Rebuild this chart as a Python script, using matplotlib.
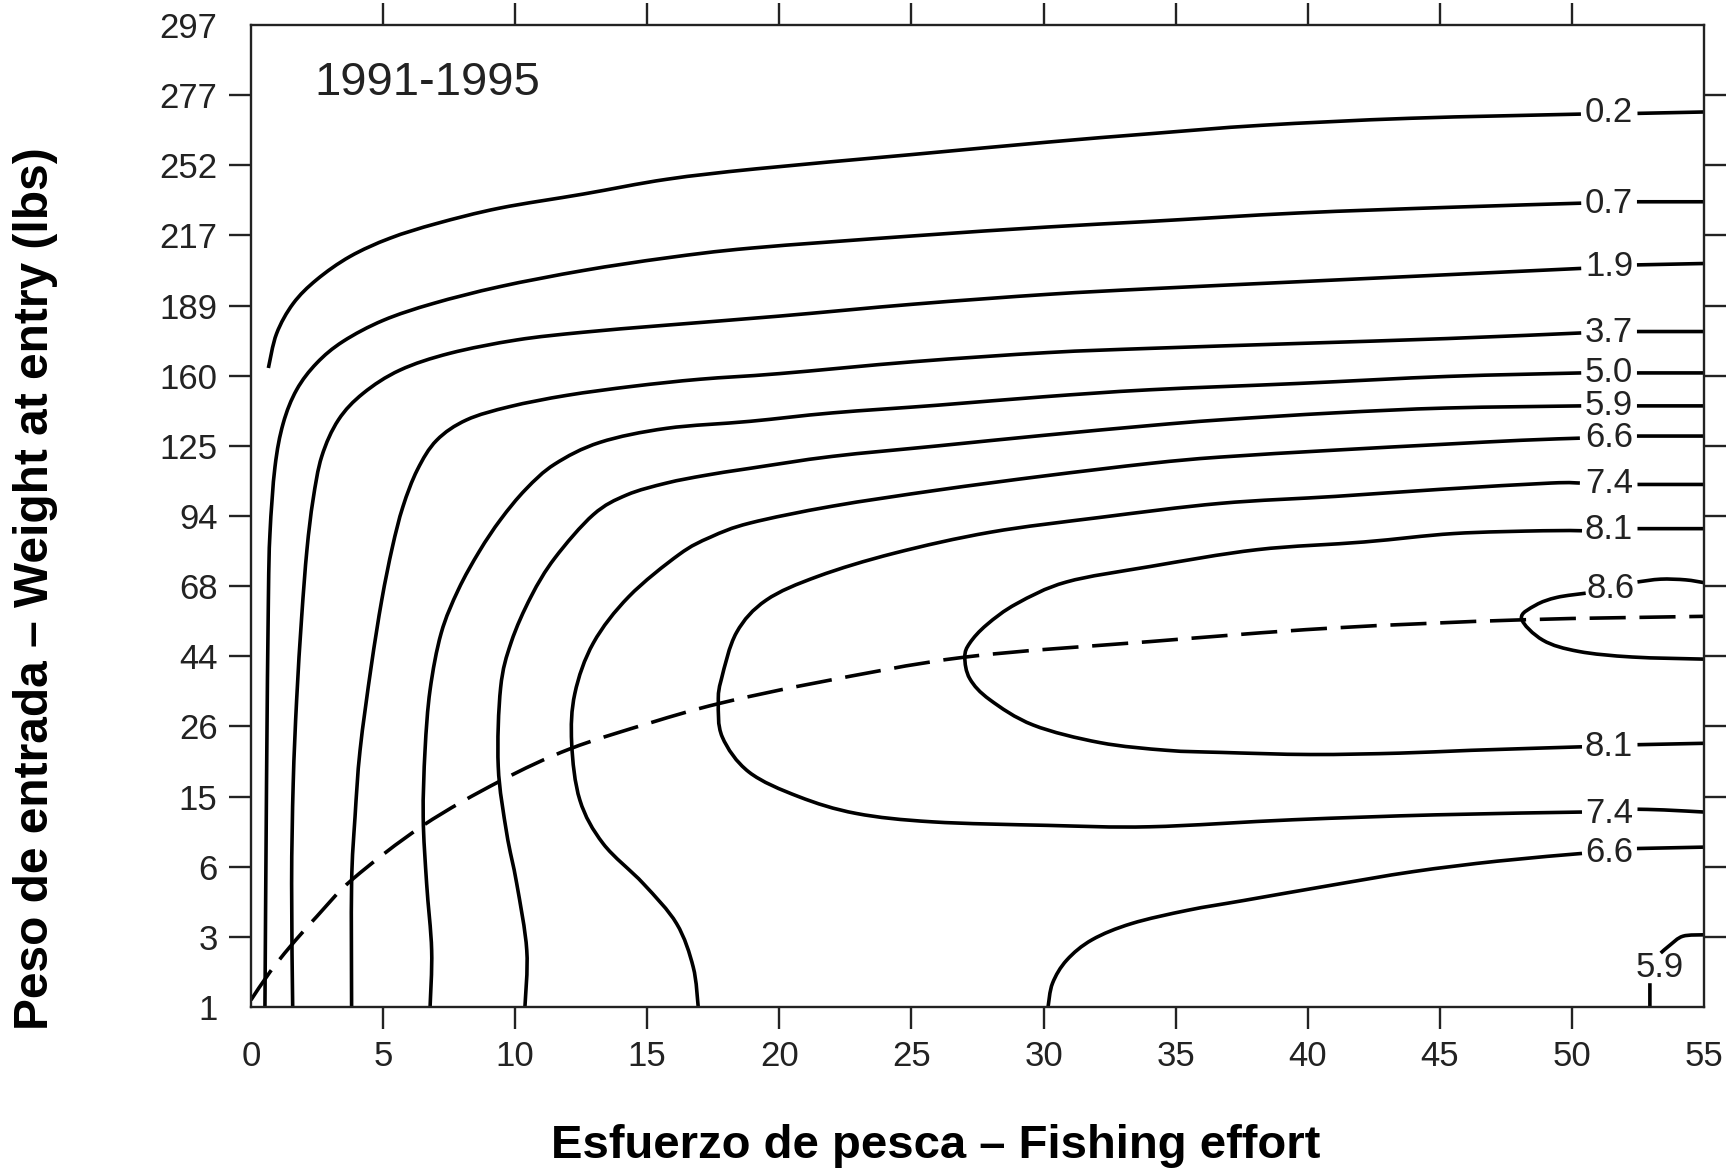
import matplotlib
matplotlib.use('Agg')
import matplotlib.pyplot as plt
from matplotlib.path import Path
from matplotlib.patches import PathPatch

plt.rcParams['font.family'] = ['Liberation Sans', 'DejaVu Sans']

# axis values
effort_ticks = [0, 5, 10, 15, 20, 25, 30, 35, 40, 45, 50, 55]
weight_labels = ['1', '3', '6', '15', '26', '44', '68', '94', '125', '160',
                 '189', '217', '252', '277', '297']

# isolines: x = fishing effort, y = position on the weight axis
c02_x = [0.66, 0.97, 1.60, 2.49, 3.75, 5.26, 7.03, 9.42, 12.58, 15.73, 19.14, 24.93, 30.15, 34.03, 38.25, 43.87, 50.34]
c02_y = [9.11, 9.60, 10.03, 10.37, 10.70, 10.96, 11.17, 11.39, 11.59, 11.80, 11.95, 12.15, 12.33, 12.45, 12.57, 12.67, 12.73]
c02r_x = [52.48, 55]
c02r_y = [12.74, 12.76]

c07_x = [0.53, 0.59, 0.66, 0.72, 0.91, 1.22, 1.73, 2.49, 3.49, 5.01, 6.90, 9.42, 12.58, 15.73, 18.95, 24.94, 30.15, 34.03, 39.65, 45.28, 50.35]
c07_y = [0, 3.19, 5.80, 6.75, 7.70, 8.32, 8.80, 9.18, 9.49, 9.79, 10.03, 10.27, 10.50, 10.68, 10.82, 10.99, 11.12, 11.20, 11.32, 11.40, 11.46]
c07r_x = [52.46, 55]
c07r_y = [11.48, 11.48]

c19_x = [1.58, 1.54, 1.60, 1.73, 1.92, 2.12, 2.35, 2.68, 3.31, 4.25, 5.64, 7.53, 10.06, 12.58, 15.7, 20.0, 25.08, 30.15, 34.03, 39.65, 45.28, 50.35]
c19_y = [0, 1.76, 3.19, 4.38, 5.56, 6.52, 7.23, 7.85, 8.37, 8.75, 9.08, 9.32, 9.51, 9.62, 9.72, 9.85, 10.02, 10.16, 10.24, 10.34, 10.44, 10.53]
c19r_x = [52.46, 55]
c19r_y = [10.58, 10.60]

c37_x = [3.81, 3.81, 3.94, 4.13, 4.55, 4.95, 5.35, 5.75, 6.3, 7.03, 8.16, 9.8, 11.95, 14.47, 17.0, 20.0, 25.08, 30.15, 34.03, 39.65, 45.28, 50.35]
c37_y = [0, 1.76, 2.71, 3.66, 4.85, 5.80, 6.55, 7.13, 7.66, 8.08, 8.37, 8.56, 8.72, 8.85, 8.95, 9.03, 9.20, 9.33, 9.39, 9.46, 9.53, 9.61]
c37r_x = [52.46, 55]
c37r_y = [9.63, 9.63]

c50_x = [6.78, 6.84, 6.65, 6.52, 6.59, 6.78, 7.2, 7.85, 8.65, 9.45, 10.4, 11.5, 13.21, 15.73, 18.89, 22.0, 26.0, 30.0, 34.03, 39.65, 45.28, 50.35]
c50_y = [0, 0.81, 1.76, 2.71, 3.66, 4.52, 5.33, 5.95, 6.50, 6.95, 7.38, 7.74, 8.05, 8.25, 8.35, 8.47, 8.58, 8.70, 8.80, 8.89, 8.99, 9.04]
c50r_x = [52.46, 55]
c50r_y = [9.04, 9.04]

c59_x = [10.37, 10.44, 10.06, 9.68, 9.36, 9.45, 9.85, 10.6, 11.5, 12.96, 14.22, 15.73, 17.2, 18.89, 22.0, 26.0, 30.0, 34.03, 36.68, 41.0, 45.28, 50.35]
c59_y = [0, 0.81, 1.76, 2.48, 3.43, 4.55, 5.20, 5.85, 6.40, 7.02, 7.30, 7.47, 7.58, 7.68, 7.85, 8.0, 8.15, 8.29, 8.37, 8.47, 8.54, 8.57]
c59r_x = [52.46, 55]
c59r_y = [8.57, 8.57]

c66_x = [16.93, 16.74, 16.11, 14.85, 13.33, 12.45, 12.14, 12.26, 12.96, 14.3, 16.2, 17.4, 18.89, 22.0, 26.0, 30.0, 34.03, 36.68, 41.06, 45.0, 48.1, 50.3]
c66_y = [0, 0.57, 1.19, 1.76, 2.33, 2.95, 3.76, 4.47, 5.19, 5.85, 6.45, 6.70, 6.90, 7.14, 7.37, 7.57, 7.75, 7.84, 7.94, 8.02, 8.08, 8.11]
c66r_x = [52.46, 55]
c66r_y = [8.14, 8.14]

c74_x = [50.3, 49.2, 45.0, 41.06, 36.68, 32.13, 28.0, 24.35, 21.46, 19.5, 18.38, 17.81, 17.69, 17.84, 18.85, 20.73, 22.91, 25.8, 30.15, 34.03, 39.44, 44.84, 50.38]
c74_y = [7.47, 7.47, 7.38, 7.28, 7.18, 6.98, 6.77, 6.47, 6.14, 5.80, 5.34, 4.68, 4.35, 3.85, 3.35, 3.00, 2.76, 2.64, 2.59, 2.57, 2.67, 2.74, 2.78]
c74r1_x = [52.48, 55]
c74r1_y = [7.45, 7.45]
c74r2_x = [52.48, 53.48, 55]
c74r2_y = [2.82, 2.81, 2.78]

c81_x = [50.38, 48.9, 45.52, 42.13, 38.08, 34.03, 30.87, 28.98, 27.85, 27.21, 27.02, 27.21, 27.97, 29.61, 32.13, 34.66, 36.73, 40.11, 43.49, 46.19, 50.38]
c81_y = [6.79, 6.79, 6.75, 6.63, 6.52, 6.28, 6.06, 5.75, 5.45, 5.19, 4.99, 4.68, 4.38, 4.02, 3.77, 3.66, 3.63, 3.60, 3.62, 3.66, 3.71]
c81r1_x = [52.48, 55]
c81r1_y = [6.82, 6.82]
c81r2_x = [52.48, 55]
c81r2_y = [3.74, 3.76]

c86_x = [50.52, 49.43, 48.63, 48.09, 48.9, 50.25, 52.28, 55]
c86_y = [5.90, 5.84, 5.73, 5.54, 5.23, 5.07, 4.99, 4.96]
c86r_x = [52.48, 53.36, 54.3, 55]
c86r_y = [6.06, 6.10, 6.09, 6.05]

c66low_x = [30.17, 30.34, 30.88, 31.84, 33.33, 35.46, 37.59, 40.79, 43.98, 47.18, 50.38]
c66low_y = [0, 0.34, 0.67, 0.96, 1.19, 1.38, 1.52, 1.73, 1.93, 2.08, 2.19]
c66lowr_x = [52.46, 55]
c66lowr_y = [2.26, 2.28]

c59low1_x = [52.95, 52.95]
c59low1_y = [0, 0.34]
c59low2_x = [53.36, 53.7, 54.2, 55]
c59low2_y = [0.77, 0.88, 1.01, 1.03]

# dashed line
dash_x = [0, 0.72, 1.48, 2.49, 3.87, 6.52, 9.42, 12.07, 15.10, 17.75, 21.5, 27.05, 34.03, 40.79, 48.09, 55]
dash_y = [0.1, 0.50, 0.86, 1.29, 1.83, 2.59, 3.22, 3.68, 4.05, 4.33, 4.63, 4.99, 5.21, 5.40, 5.52, 5.57]

# isoline labels
label_text = ['0.2', '0.7', '1.9', '3.7', '5.0', '5.9', '6.6', '7.4', '8.1', '8.6', '8.1', '7.4', '6.6', '5.9']
label_x = [51.4, 51.4, 51.4, 51.4, 51.4, 51.4, 51.4, 51.4, 51.4, 51.45, 51.4, 51.4, 51.4, 53.3]
label_y = [12.75, 11.46, 10.56, 9.62, 9.04, 8.57, 8.12, 7.46, 6.81, 5.97, 3.72, 2.76, 2.2, 0.56]

segments = [
    (c02_x, c02_y), (c02r_x, c02r_y),
    (c07_x, c07_y), (c07r_x, c07r_y),
    (c19_x, c19_y), (c19r_x, c19r_y),
    (c37_x, c37_y), (c37r_x, c37r_y),
    (c50_x, c50_y), (c50r_x, c50r_y),
    (c59_x, c59_y), (c59r_x, c59r_y),
    (c66_x, c66_y), (c66r_x, c66r_y),
    (c74_x, c74_y), (c74r1_x, c74r1_y), (c74r2_x, c74r2_y),
    (c81_x, c81_y), (c81r1_x, c81r1_y), (c81r2_x, c81r2_y),
    (c86_x, c86_y), (c86r_x, c86r_y),
    (c66low_x, c66low_y), (c66lowr_x, c66lowr_y),
    (c59low1_x, c59low1_y), (c59low2_x, c59low2_y),
]


def curve_through(xs, ys):
    # smooth bezier path passing through the traced points
    pts = list(zip(xs, ys))
    verts = [pts[0]]
    codes = [Path.MOVETO]
    n = len(pts)
    for i in range(n - 1):
        p0 = pts[max(i - 1, 0)]
        p1 = pts[i]
        p2 = pts[i + 1]
        p3 = pts[min(i + 2, n - 1)]
        c1 = (p1[0] + (p2[0] - p0[0]) / 6.0, p1[1] + (p2[1] - p0[1]) / 6.0)
        c2 = (p2[0] - (p3[0] - p1[0]) / 6.0, p2[1] - (p3[1] - p1[1]) / 6.0)
        verts += [c1, c2, p2]
        codes += [Path.CURVE4, Path.CURVE4, Path.CURVE4]
    return Path(verts, codes)


fig = plt.figure(figsize=(17.33, 11.68), dpi=100)
ax = fig.add_axes([0.1448, 0.1378, 0.8385, 0.8408])

for sx, sy in segments:
    ax.add_patch(PathPatch(curve_through(sx, sy), fill=False, edgecolor='black',
                           lw=2.6, capstyle='butt', joinstyle='round'))

ax.add_patch(PathPatch(curve_through(dash_x, dash_y), fill=False, edgecolor='black',
                       lw=2.6, linestyle=(0, (10, 3.8))))

for t, lx, ly in zip(label_text, label_x, label_y):
    ax.text(lx, ly, t, fontsize=25, ha='center', va='center', color='#222222')

ax.text(2.41, 13.18, '1991-1995', fontsize=34, ha='left', va='center', color='#222222')

ax.set_xlim(0, 55)
ax.set_ylim(0, 14)
ax.set_xticks(effort_ticks)
ax.set_yticks(range(len(weight_labels)))
ax.set_yticklabels(weight_labels)
ax.tick_params(direction='out', length=16, width=1.7, labelsize=25, colors='#222222',
               top=True, right=True)
ax.tick_params(axis='x', pad=8)
ax.tick_params(axis='y', pad=8)

# no tick marks at the corners
for tk in [ax.xaxis.get_major_ticks()[0], ax.xaxis.get_major_ticks()[-1],
           ax.yaxis.get_major_ticks()[0], ax.yaxis.get_major_ticks()[-1]]:
    tk.tick1line.set_visible(False)
    tk.tick2line.set_visible(False)

for sp in ax.spines.values():
    sp.set_linewidth(1.7)
    sp.set_color('#222222')

fig.text(0.54, 0.0086, 'Esfuerzo de pesca \u2013 Fishing effort', fontsize=34,
         fontweight='bold', ha='center', va='baseline')
fig.text(0.0205, 0.496, 'Peso de entrada \u2013 Weight at entry (lbs)', fontsize=34.5,
         fontweight='bold', ha='center', va='center', rotation=90)

fig.savefig('out.png', dpi=100)
